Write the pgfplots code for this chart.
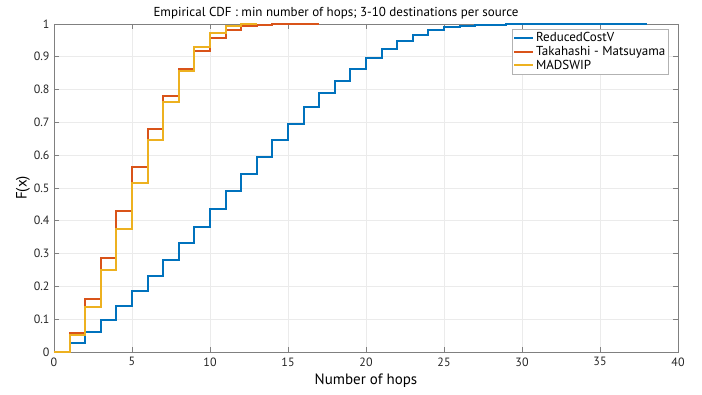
\documentclass[border=0pt]{standalone}
\usepackage{pgfplots}
\pgfplotsset{compat=1.18}
\usepackage{fontspec}
\setmainfont{PT Sans}

\definecolor{mblue}{rgb}{0,0.447,0.741}
\definecolor{morange}{rgb}{0.85,0.325,0.098}
\definecolor{myellow}{rgb}{0.929,0.694,0.125}
\definecolor{axgray}{gray}{0.5}

\begin{document}
\begin{tikzpicture}[x=1pt,y=1pt]
\useasboundingbox (-54,-42) rectangle (648,352);
\begin{axis}[
  at={(0,0)}, anchor=south west,
  scale only axis, width=624pt, height=328pt,
  xmin=0, xmax=40, ymin=0, ymax=1,
  xtick={0,5,...,40},
  ytick={0,0.1,...,1},
  tick align=inside,
  major tick length=5pt,
  axis line style={axgray, line width=0.8pt},
  tick style={axgray, line width=0.8pt},
  grid=major,
  major grid style={gray!16, line width=0.6pt},
  /pgf/number format/assume math mode=true,
  tick label style={font=\fontsize{12}{14}\selectfont, text=black!85},
  yticklabel style={xshift=-1pt},
  xticklabel style={yshift=-2pt},
  title={Empirical CDF : min number of hops; 3-10 destinations per source},
  title style={font=\fontsize{13}{15}\selectfont, yshift=-5pt, xshift=-30pt},
  xlabel={Number of hops},
  xlabel style={font=\fontsize{15}{17}\selectfont, yshift=-1pt},
  ylabel={F(x)},
  ylabel style={font=\fontsize{15}{17}\selectfont, yshift=-3pt},
  legend cell align=left,
  legend style={at={(0.985,0.985)}, anchor=north east,
    font=\fontsize{13}{15}\selectfont, draw=gray!60,
    inner xsep=1pt, inner ysep=1.5pt, row sep=-1pt},
  legend image code/.code={\draw[#1] (0pt,0pt) -- (19pt,0pt);},
  every axis plot/.append style={line width=2pt, const plot mark left, no marks},
]
% ReducedCostV
\addplot[mblue] coordinates {
  (1,0) (1,0.0275) (2,0.061) (3,0.099) (4,0.140) (5,0.186) (6,0.232)
  (7,0.280) (8,0.331) (9,0.382) (10,0.437) (11,0.490) (12,0.542)
  (13,0.594) (14,0.646) (15,0.696) (16,0.746) (17,0.791) (18,0.827)
  (19,0.862) (20,0.896) (21,0.925) (22,0.947) (23,0.967) (24,0.981)
  (25,0.990) (26,0.995) (27,0.997) (28,0.998) (29,0.999) (31,0.9995)
  (33,1.0) (38,1.0)
};
\addlegendentry{ReducedCostV}
% Takahashi - Matsuyama
\addplot[morange] coordinates {
  (0,0) (1,0.058) (2,0.163) (3,0.288) (4,0.429) (5,0.565) (6,0.681)
  (7,0.781) (8,0.864) (9,0.919) (10,0.958) (11,0.981) (12,0.993)
  (13,0.997) (14,0.999) (15,1.0) (17,1.0)
};
\addlegendentry{Takahashi - Matsuyama}
% MADSWIP
\addplot[myellow] coordinates {
  (0,0) (1,0.051) (2,0.137) (3,0.251) (4,0.376) (5,0.515) (6,0.645)
  (7,0.763) (8,0.857) (9,0.929) (10,0.974) (11,0.993) (12,1.0) (13,1.0)
};
\addlegendentry{MADSWIP}
\end{axis}
\end{tikzpicture}
\end{document}
